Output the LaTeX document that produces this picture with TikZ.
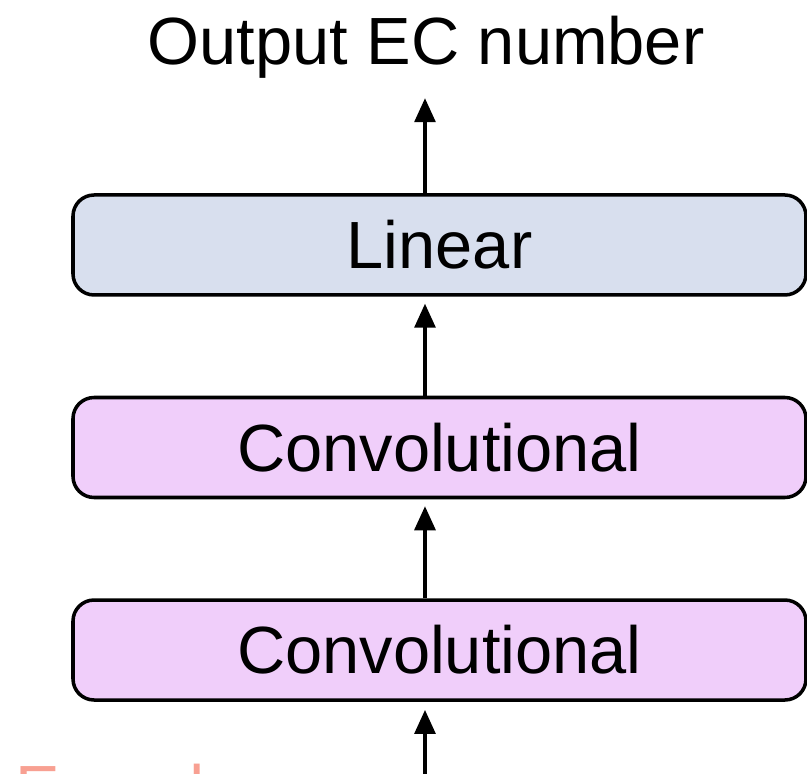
\documentclass[tikz,border=0pt]{standalone}
\usepackage{fontspec}
\setmainfont{Liberation Sans}
\usetikzlibrary{arrows.meta,positioning}
\definecolor{linfill}{RGB}{216,223,238}
\definecolor{convfill}{RGB}{240,206,250}
\definecolor{encred}{RGB}{248,160,146}
\tikzset{
  basic/.style  = {draw, line width=1pt, font=\fontsize{19}{22}\selectfont,
                   rectangle, rounded corners=6pt, minimum width=7.33cm,
                   minimum height=1cm, inner sep=0pt},
  linear/.style = {basic, fill=linfill},
  conv/.style   = {basic, fill=convfill}
}

\begin{document}
\begin{tikzpicture}[
  node distance=0.99cm,
  >={Triangle[length=2.4mm,width=2.1mm]}]
  \useasboundingbox (0,0) rectangle (8.07,7.74);
  \clip (0,0) rectangle (8.07,7.74);

  % the layer stack, top to bottom
  \node[linear] (lin) at (4.395,5.29) {Linear};
  \node[conv, below = of lin] (conv2) {Convolutional};
  \node[conv, below = of conv2] (conv1) {Convolutional};

  % output label and the encoder caption running off the bottom
  \node[anchor=base, font=\fontsize{19}{22}\selectfont] (out) at (4.26,7.09) {Output EC number};
  \node[anchor=base west, inner sep=0pt, text=encred,
        font=\fontsize{19}{22}\selectfont] (enc) at (0.15,-0.39) {Encoder};

  % arrows between the layers
  \coordinate (in) at (4.25,-0.2);
  \draw[->, line width=0.9pt] (lin.north -| in) -- ++(0,0.95);
  \draw[->, line width=0.9pt] (conv2.north -| in) -- ++(0,0.92);
  \draw[->, line width=0.9pt] (conv1.north -| in) -- ++(0,0.92);
  \draw[->, line width=0.9pt] (in) -- ++(0,0.84);
\end{tikzpicture}
\end{document}
